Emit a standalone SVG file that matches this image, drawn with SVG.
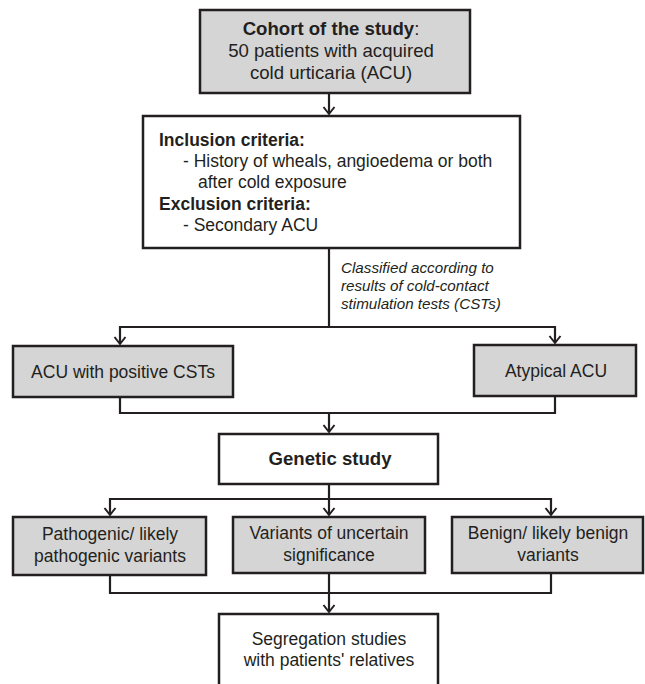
<svg xmlns="http://www.w3.org/2000/svg" width="645" height="684" viewBox="0 0 645 684">
<style>
.box{stroke:#231f20;stroke-width:2.5;}
.g{fill:#d5d5d5;}
.w{fill:#ffffff;}
.t{font-family:"Liberation Sans",Arial,sans-serif;font-size:17.5px;fill:#231f20;}
.c{text-anchor:middle;}
.lg{font-size:18.6px;}
.b{font-weight:bold;}
.i{font-style:italic;font-size:15.2px;}
.ln{fill:none;stroke:#231f20;stroke-width:2.2;}
</style>
<defs>
<marker id="arr" markerUnits="userSpaceOnUse" markerWidth="16" markerHeight="16" viewBox="-8 -8 16 16" refX="0" refY="0" orient="auto">
<path d="M-7,-5.5 L0,0 L-7,5.5" fill="none" stroke="#231f20" stroke-width="2"/>
</marker>
</defs>
<rect width="645" height="684" fill="#ffffff"/>
<g id="connectors">
<path class="ln" d="M329,93 V114" marker-end="url(#arr)"/>
<path class="ln" d="M329,248 V327"/>
<path class="ln" d="M329,327 H120 V344" marker-end="url(#arr)"/>
<path class="ln" d="M329,327 H555 V343" marker-end="url(#arr)"/>
<path class="ln" d="M120,397 V413 H555 V396"/>
<path class="ln" d="M329,413 V432" marker-end="url(#arr)"/>
<path class="ln" d="M329,484 V499"/>
<path class="ln" d="M329,499 H110 V515" marker-end="url(#arr)"/>
<path class="ln" d="M329,499 V515" marker-end="url(#arr)"/>
<path class="ln" d="M329,499 H551 V515" marker-end="url(#arr)"/>
<path class="ln" d="M110,575 V593 H551 V573"/>
<path class="ln" d="M329,573 V593"/>
<path class="ln" d="M329,593 V612" marker-end="url(#arr)"/>
<text class="t i" x="341" y="273">Classified according to</text>
<text class="t i" x="341" y="291">results of cold-contact</text>
<text class="t i" x="341" y="309">stimulation tests (CSTs)</text>
</g>
<g id="cohort">
<rect class="box g" x="200" y="10" width="270" height="83"/>
<text class="t lg c" x="331" y="35"><tspan class="b">Cohort of the study</tspan>:</text>
<text class="t lg c" x="331" y="57">50 patients with acquired</text>
<text class="t lg c" x="331" y="79">cold urticaria (ACU)</text>
</g>
<g id="criteria">
<rect class="box w" x="143" y="116" width="377" height="132"/>
<text class="t b" x="159" y="146">Inclusion criteria:</text>
<text class="t" x="183" y="167">- History of wheals, angioedema or both</text>
<text class="t" x="198" y="188">after cold exposure</text>
<text class="t b" x="159" y="210">Exclusion criteria:</text>
<text class="t" x="183" y="231">- Secondary ACU</text>
</g>
<g id="positive">
<rect class="box g" x="13" y="346" width="220" height="51"/>
<text class="t c" x="123" y="378">ACU with positive CSTs</text>
</g>
<g id="atypical">
<rect class="box g" x="474" y="345" width="162" height="51"/>
<text class="t c" x="556" y="377">Atypical ACU</text>
</g>
<g id="genetic">
<rect class="box w" x="219" y="434" width="219" height="50"/>
<text class="t lg c b" x="330" y="465">Genetic study</text>
</g>
<g id="pathogenic">
<rect class="box g" x="13" y="517" width="193" height="58"/>
<text class="t c" x="110" y="540">Pathogenic/ likely</text>
<text class="t c" x="110" y="562">pathogenic variants</text>
</g>
<g id="uncertain">
<rect class="box g" x="233" y="517" width="192" height="56"/>
<text class="t c" x="329" y="539">Variants of uncertain</text>
<text class="t c" x="329" y="561">significance</text>
</g>
<g id="benign">
<rect class="box g" x="452" y="517" width="191" height="56"/>
<text class="t c" x="548" y="539">Benign/ likely benign</text>
<text class="t c" x="548" y="561">variants</text>
</g>
<g id="segregation">
<rect class="box w" x="219" y="614" width="219" height="80"/>
<text class="t c" x="329" y="645">Segregation studies</text>
<text class="t c" x="329" y="666">with patients' relatives</text>
</g>
</svg>
